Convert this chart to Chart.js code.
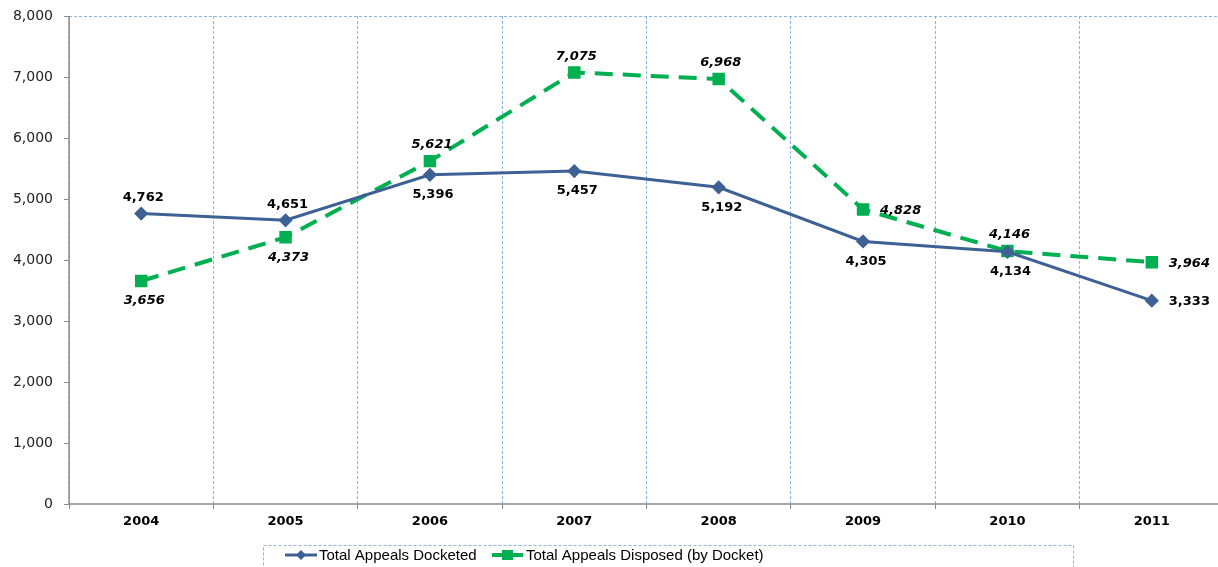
<!DOCTYPE html>
<html>
<head>
<meta charset="utf-8">
<script src="https://cdn.jsdelivr.net/npm/chart.js@4/dist/chart.umd.min.js"></script>
<style>
  body { margin: 0; background: #fff; overflow: hidden; }
  #appeals { display: block; }
</style>
</head>
<body>
<canvas id="appeals" width="1234" height="567"></canvas>
<script>
'use strict'

const years = ['2004', '2005', '2006', '2007', '2008', '2009', '2010', '2011'];
const docketed = [4762, 4651, 5396, 5457, 5192, 4305, 4134, 3333];
const disposed = [3656, 4373, 5621, 7075, 6968, 4828, 4146, 3964];
const seriesNames = ['Total Appeals Docketed', 'Total Appeals Disposed (by Docket)'];

// where each value label sits relative to its point
const docketedPlace = ['above', 'above', 'below', 'below', 'below', 'below', 'below', 'right'];
const disposedPlace = ['below', 'below', 'above', 'above', 'above', 'right', 'above', 'right'];

const blue = '#3E6195';
const green = '#00B050';
const gridBlue = '#8DB4E2';
const axisGray = '#8C8C8C';

const fmt = v => v.toLocaleString('en-US');

// solid axis lines (the scale border would pick up the grid dash)
const axisLines = {
  id: 'axisLines',
  afterDatasetsDraw(chart) {
    const { ctx, chartArea: a } = chart;
    ctx.save();
    ctx.strokeStyle = axisGray;
    ctx.lineWidth = 1.5;
    ctx.beginPath();
    ctx.moveTo(a.left, a.top);
    ctx.lineTo(a.left, a.bottom);
    ctx.lineTo(a.right, a.bottom);
    ctx.stroke();
    ctx.restore();
  }
};

const valueLabels = {
  id: 'valueLabels',
  afterDatasetsDraw(chart) {
    const ctx = chart.ctx;
    const places = [docketedPlace, disposedPlace];
    chart.data.datasets.forEach((ds, i) => {
      const meta = chart.getDatasetMeta(i);
      ctx.save();
      ctx.fillStyle = '#000';
      ctx.font = (i === 1 ? 'italic ' : '') + 'bold 13px "DejaVu Sans"';
      ctx.textBaseline = 'middle';
      meta.data.forEach((pt, j) => {
        const text = fmt(ds.data[j]);
        const where = places[i][j];
        if (where === 'right') {
          ctx.textAlign = 'left';
          ctx.fillText(text, pt.x + 17, pt.y + 1);
        } else if (where === 'above') {
          ctx.textAlign = 'center';
          ctx.fillText(text, pt.x + 2, pt.y - 16);
        } else {
          ctx.textAlign = 'center';
          ctx.fillText(text, pt.x + 3, pt.y + 20);
        }
      });
      ctx.restore();
    });
  }
};

const bottomLegend = {
  id: 'bottomLegend',
  afterDraw(chart) {
    const ctx = chart.ctx;
    ctx.save();
    ctx.strokeStyle = gridBlue;
    ctx.lineWidth = 1;
    ctx.setLineDash([3, 2]);
    ctx.strokeRect(263.5, 545.5, 810, 30);
    ctx.setLineDash([]);

    const cy = 555;
    ctx.strokeStyle = blue;
    ctx.lineWidth = 3;
    ctx.beginPath(); ctx.moveTo(285, cy); ctx.lineTo(317, cy); ctx.stroke();
    ctx.fillStyle = blue;
    ctx.beginPath();
    ctx.moveTo(301, cy - 5); ctx.lineTo(306, cy); ctx.lineTo(301, cy + 5); ctx.lineTo(296, cy);
    ctx.closePath(); ctx.fill();

    ctx.strokeStyle = green;
    ctx.lineWidth = 4;
    ctx.beginPath(); ctx.moveTo(492, cy); ctx.lineTo(502, cy); ctx.stroke();
    ctx.beginPath(); ctx.moveTo(513, cy); ctx.lineTo(523, cy); ctx.stroke();
    ctx.fillStyle = green;
    ctx.fillRect(502, cy - 5, 11, 10);

    ctx.fillStyle = '#000';
    ctx.font = '15px "Liberation Sans", Arial, sans-serif';
    ctx.textAlign = 'left';
    ctx.textBaseline = 'middle';
    ctx.fillText(seriesNames[0], 319, cy + 1);
    ctx.fillText(seriesNames[1], 526, cy + 1);
    ctx.restore();
  }
};

new Chart(document.getElementById('appeals'), {
  type: 'line',
  data: {
    labels: years,
    datasets: [{
      label: seriesNames[0],
      data: docketed,
      borderColor: blue,
      backgroundColor: blue,
      borderWidth: 3,
      pointStyle: 'rectRot',
      pointRadius: 5,
      pointHoverRadius: 5,
      tension: 0
    }, {
      label: seriesNames[1],
      data: disposed,
      borderColor: green,
      backgroundColor: green,
      borderWidth: 4,
      borderDash: [18, 10],
      pointStyle: 'rect',
      pointRadius: 6,
      pointHoverRadius: 6,
      tension: 0
    }]
  },
  options: {
    responsive: false,
    animation: false,
    layout: { padding: { top: 16, right: 3, left: 0, bottom: 0 } },
    plugins: {
      legend: { display: false },
      tooltip: { enabled: false }
    },
    scales: {
      x: {
        offset: true,
        grid: {
          offset: true,
          color: gridBlue,
          lineWidth: 1,
          drawTicks: true,
          tickLength: 5,
          tickColor: axisGray
        },
        border: { display: false, dash: [3, 2] },
        ticks: {
          color: '#000',
          padding: 5,
          font: { family: 'DejaVu Sans', size: 13, weight: 'bold' }
        },
        afterFit(scale) {
          scale.height = 63;
          scale.paddingLeft = 0;
          scale.paddingRight = 0;
        }
      },
      y: {
        min: 0,
        max: 8000,
        grid: {
          color: c => (c.tick && c.tick.value === 8000 ? gridBlue : 'rgba(0,0,0,0)'),
          lineWidth: 1,
          drawTicks: true,
          tickLength: 5,
          tickColor: axisGray
        },
        border: { display: false, dash: [3, 2] },
        ticks: {
          stepSize: 1000,
          color: '#222',
          padding: 11,
          font: { family: 'DejaVu Sans', size: 14 },
          callback: v => fmt(v)
        },
        afterFit(scale) {
          scale.width = 69;
          scale.paddingTop = 0;
          scale.paddingBottom = 0;
        }
      }
    }
  },
  plugins: [axisLines, valueLabels, bottomLegend]
});
</script>
</body>
</html>
